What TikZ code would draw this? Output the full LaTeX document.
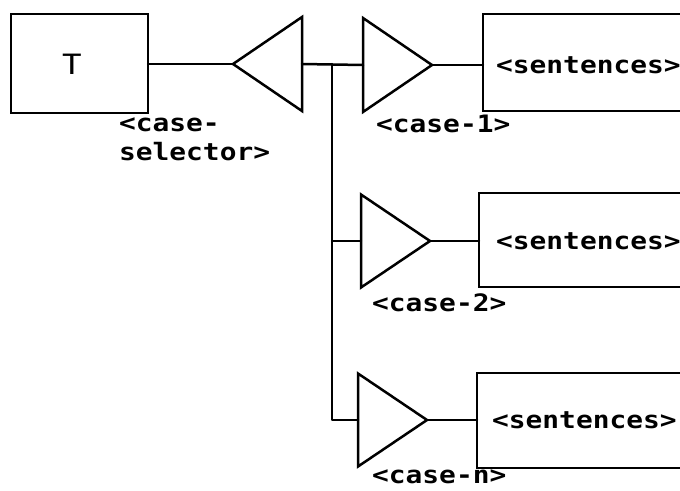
\documentclass[tikz,border=0pt]{standalone}
\usepackage{fontspec}
\setmonofont[FakeStretch=1.16]{DejaVu Sans Mono}
\usetikzlibrary{shapes.geometric}
\tikzset{
  wire/.style={line width=2.5pt, line cap=round, line join=round},
  blockbox/.style={draw, line width=2.5pt, rectangle, inner sep=0pt, outer sep=0pt},
  gate/.style={draw, line width=2.5pt, line join=miter, isosceles triangle, isosceles triangle stretches,
    inner sep=0pt, outer sep=0pt, minimum height=69pt, minimum width=94pt},
  lbl/.style={font=\ttfamily\bfseries\fontsize{24}{27}\selectfont, inner sep=0pt, anchor=west},
}
\begin{document}
\begin{tikzpicture}[x=1pt, y=-1pt]
  \useasboundingbox (0,0) rectangle (680,490);
  \clip (0,0) rectangle (680,490);

  % selector block and its gate
  \node[blockbox, minimum width=137pt, minimum height=99pt] (tbox) at (79.5,63.5) {};
  \node[lbl, anchor=center, font=\ttfamily\fontsize{28}{30}\selectfont] (tlabel) at (72,64) {T};
  \node[gate, shape border rotate=180, anchor=lower side] (sel) at (302,64) {};
  \node[lbl] (sellabA) at (119,125) {<case-};
  \node[lbl] (sellabB) at (119,152) {selector>};

  % case gates
  \node[gate, anchor=lower side] (g1) at (363,65) {};
  \node[gate, anchor=lower side, minimum width=93pt] (g2) at (361,241) {};
  \node[gate, anchor=lower side, minimum width=93pt] (g3) at (358,420) {};
  \node[lbl] (c1) at (376,124) {<case-1>};
  \node[lbl] (c2) at (372,303) {<case-2>};
  \node[lbl] (c3) at (372,477) {<case-n>};

  % statement blocks (running off the right edge)
  \node[blockbox, anchor=west, minimum width=240pt, minimum height=97pt] (s1) at (483,62.5) {};
  \node[blockbox, anchor=west, minimum width=240pt, minimum height=94pt] (s2) at (479,240) {};
  \node[blockbox, anchor=west, minimum width=240pt, minimum height=95pt] (s3) at (477,420.5) {};
  \node[lbl] (t1) at (496,65) {<sentences>};
  \node[lbl] (t2) at (496,241) {<sentences>};
  \node[lbl] (t3) at (492,420) {<sentences>};

  % connectors
  \coordinate (trunk) at (332,64);
  \draw[wire] (tbox.east |- sel.apex) -- (sel.apex);
  \draw[wire] (sel.lower side) -- (g1.lower side);
  \draw[wire] (trunk) |- (g3.lower side);
  \draw[wire] (trunk |- g2.lower side) -- (g2.lower side);
  \draw[wire] (g1.apex) -- (s1.west |- g1.apex);
  \draw[wire] (g2.apex) -- (s2.west |- g2.apex);
  \draw[wire] (g3.apex) -- (s3.west |- g3.apex);
\end{tikzpicture}
\end{document}
